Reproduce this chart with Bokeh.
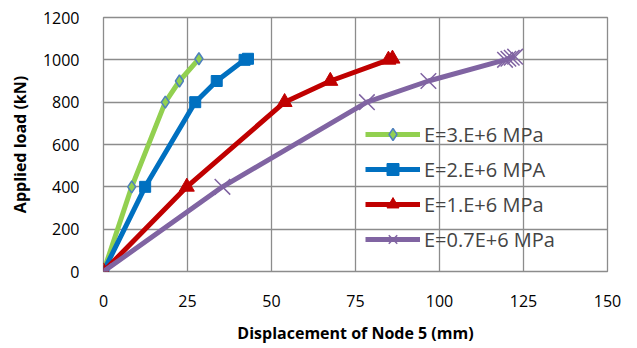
from bokeh.plotting import figure
from bokeh.models import Range1d, FixedTicker, Legend, LegendItem
from bokeh.embed import file_html
from bokeh.resources import INLINE

x_e3 = [0, 8.4, 18.4, 22.6, 28.4]
y_e3 = [0, 400, 800, 900, 1005]
x_e2 = [0, 12.4, 27.3, 33.7, 42.0, 43.0]
y_e2 = [0, 400, 800, 900, 1000, 1005]
x_e1 = [0, 24.8, 53.9, 67.5, 84.8, 86.0]
y_e1 = [0, 400, 800, 900, 1000, 1005]
x_e07 = [0, 35.4, 78.4, 96.7, 119.5, 120.5, 121.5, 122.5]
y_e07 = [0, 400, 800, 900, 1000, 1005, 1010, 1015]
x_ticks = [0, 25, 50, 75, 100, 125, 150]
y_ticks = [0, 200, 400, 600, 800, 1000, 1200]
labels = ["E=3.E+6 MPa", "E=2.E+6 MPA", "E=1.E+6 MPa", "E=0.7E+6 MPa"]

FONT = "Open Sans"
GRID = "#8c8c8c"

p = figure(width=630, height=346, output_backend="svg", toolbar_location=None,
           x_range=Range1d(0, 150), y_range=Range1d(0, 1200),
           min_border_left=103, min_border_right=23, min_border_top=17, min_border_bottom=70)
p.outline_line_color = GRID
p.outline_line_width = 1.3
p.background_fill_color = "white"
p.border_fill_color = "white"

for ax in (p.xaxis[0], p.yaxis[0]):
    ax.axis_line_color = None
    ax.major_tick_line_color = None
    ax.minor_tick_line_color = None
    ax.major_label_text_font = FONT
    ax.major_label_text_font_size = "16px"
    ax.major_label_text_color = "#000000"
    ax.axis_label_text_font = FONT
    ax.axis_label_text_font_size = "16px"
    ax.axis_label_text_font_style = "bold"
    ax.axis_label_text_color = "#000000"

p.xaxis.ticker = FixedTicker(ticks=x_ticks)
p.yaxis.ticker = FixedTicker(ticks=y_ticks)
p.xaxis.axis_label = "Displacement of Node 5 (mm)"
p.yaxis.axis_label = "Applied load (kN)"
p.xaxis.major_label_standoff = 17
p.yaxis.major_label_standoff = 18
p.xaxis.axis_label_standoff = 12
p.yaxis.axis_label_standoff = 9

p.xgrid.grid_line_color = GRID
p.ygrid.grid_line_color = GRID
p.xgrid.grid_line_width = 1.3
p.ygrid.grid_line_width = 1.3

# green
l1 = p.line(x_e3, y_e3, line_color="#92D050", line_width=5)
m1 = p.scatter(x_e3, y_e3, marker="diamond", size=12, fill_color="#92D050",
               line_color="#4F81BD", line_width=1.5)
# blue
l2 = p.line(x_e2, y_e2, line_color="#0070C0", line_width=5)
m2 = p.scatter(x_e2, y_e2, marker="square", size=11, fill_color="#0070C0",
               line_color="#0070C0")
# red
l3 = p.line(x_e1, y_e1, line_color="#C00000", line_width=5)
m3 = p.scatter(x_e1, y_e1, marker="triangle", size=15, fill_color="#C00000",
               line_color="#C00000")
# purple
l4 = p.line(x_e07, y_e07, line_color="#8064A2", line_width=5)
m4 = p.scatter(x_e07, y_e07, marker="x", size=22, line_color="#8064A2", line_width=1.5)

legend = Legend(items=[LegendItem(label=labels[0], renderers=[l1, m1]),
                       LegendItem(label=labels[1], renderers=[l2, m2]),
                       LegendItem(label=labels[2], renderers=[l3, m3]),
                       LegendItem(label=labels[3], renderers=[l4, m4])],
                location=(262, 17))
legend.background_fill_alpha = 0
legend.border_line_color = None
legend.label_text_font = FONT
legend.label_text_font_size = "20px"
legend.glyph_width = 55
legend.glyph_height = 30
legend.label_height = 30
legend.spacing = 5
legend.label_standoff = 4
legend.padding = 0
legend.margin = 0
p.add_layout(legend, "center")

open("out.html", "w").write(file_html(p, INLINE))
